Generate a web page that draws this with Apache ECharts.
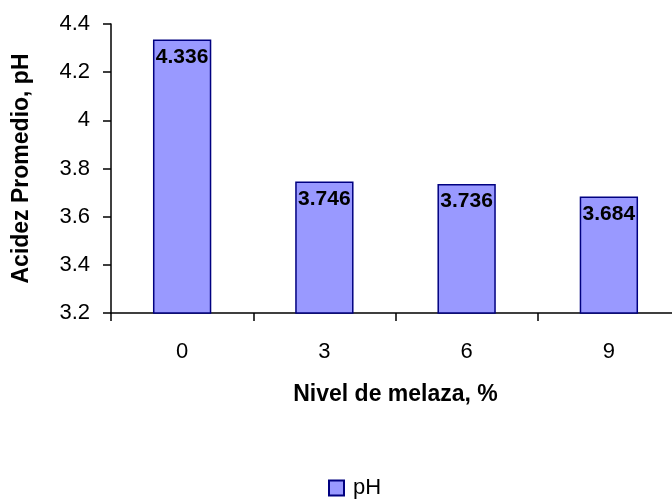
<!DOCTYPE html>
<html>
<head>
<meta charset="utf-8">
<script src="https://cdn.jsdelivr.net/npm/echarts@6/dist/echarts.min.js"></script>
<style>
  html, body { margin: 0; padding: 0; background: #fff; }
  #chart { width: 672px; height: 499px; }
</style>
</head>
<body>
<div id="chart"></div>
<script>
// Nivel de melaza vs acidez promedio
const categories = ['0', '3', '6', '9'];
const phValues = [4.336, 3.746, 3.736, 3.684];
const phLabels = ['4.336', '3.746', '3.736', '3.684'];

const chartDom = document.getElementById('chart');
const chart = echarts.init(chartDom);
const font = '"Liberation Sans", Arial, sans-serif';

const option = {
    animation: false,
    textStyle: { fontFamily: font },
    grid: { left: 111, top: 24, width: 569, height: 289, outerBoundsMode: 'none' },
    legend: {
        data: ['pH'],
        left: 323,
        top: 472,
        icon: 'rect',
        itemWidth: 15,
        itemHeight: 15,
        textStyle: { fontFamily: font, fontSize: 22, color: '#000', padding: [0, 0, 0, 4] }
    },
    xAxis: {
        type: 'category',
        data: categories,
        name: 'Nivel de melaza, %',
        nameLocation: 'middle',
        nameGap: 70,
        nameTextStyle: { fontFamily: font, fontSize: 23, fontWeight: 'bold', color: '#000' },
        axisLine: { lineStyle: { color: '#000', width: 1.5 } },
        axisTick: { show: true, length: 8, lineStyle: { color: '#000', width: 1.5 } },
        axisLabel: { margin: 28, fontFamily: font, fontSize: 22, color: '#000' }
    },
    yAxis: {
        type: 'value',
        min: 3.2,
        max: 4.4,
        interval: 0.2,
        name: 'Acidez Promedio, pH',
        nameLocation: 'middle',
        nameGap: 78,
        nameTextStyle: { fontFamily: font, fontSize: 23, fontWeight: 'bold', color: '#000' },
        axisLine: { show: true, lineStyle: { color: '#000', width: 1.5 } },
        axisTick: { show: true, length: 8, lineStyle: { color: '#000', width: 1.5 } },
        splitLine: { show: false },
        axisLabel: {
            margin: 21,
            fontFamily: font,
            fontSize: 22,
            color: '#000',
            formatter: v => String(parseFloat(v.toFixed(1)))
        }
    },
    series: [{
        name: 'pH',
        type: 'bar',
        data: phValues,
        barWidth: '41%',
        itemStyle: { color: '#9999ff', borderColor: '#000080', borderWidth: 1.5 },
        label: {
            show: true,
            position: 'insideTop',
            distance: 7,
            fontFamily: font,
            fontSize: 21,
            fontWeight: 'bold',
            color: '#000',
            formatter: p => phLabels[p.dataIndex]
        }
    }]
};

chart.setOption(option);
window.addEventListener('resize', () => chart.resize());
</script>
</body>
</html>
